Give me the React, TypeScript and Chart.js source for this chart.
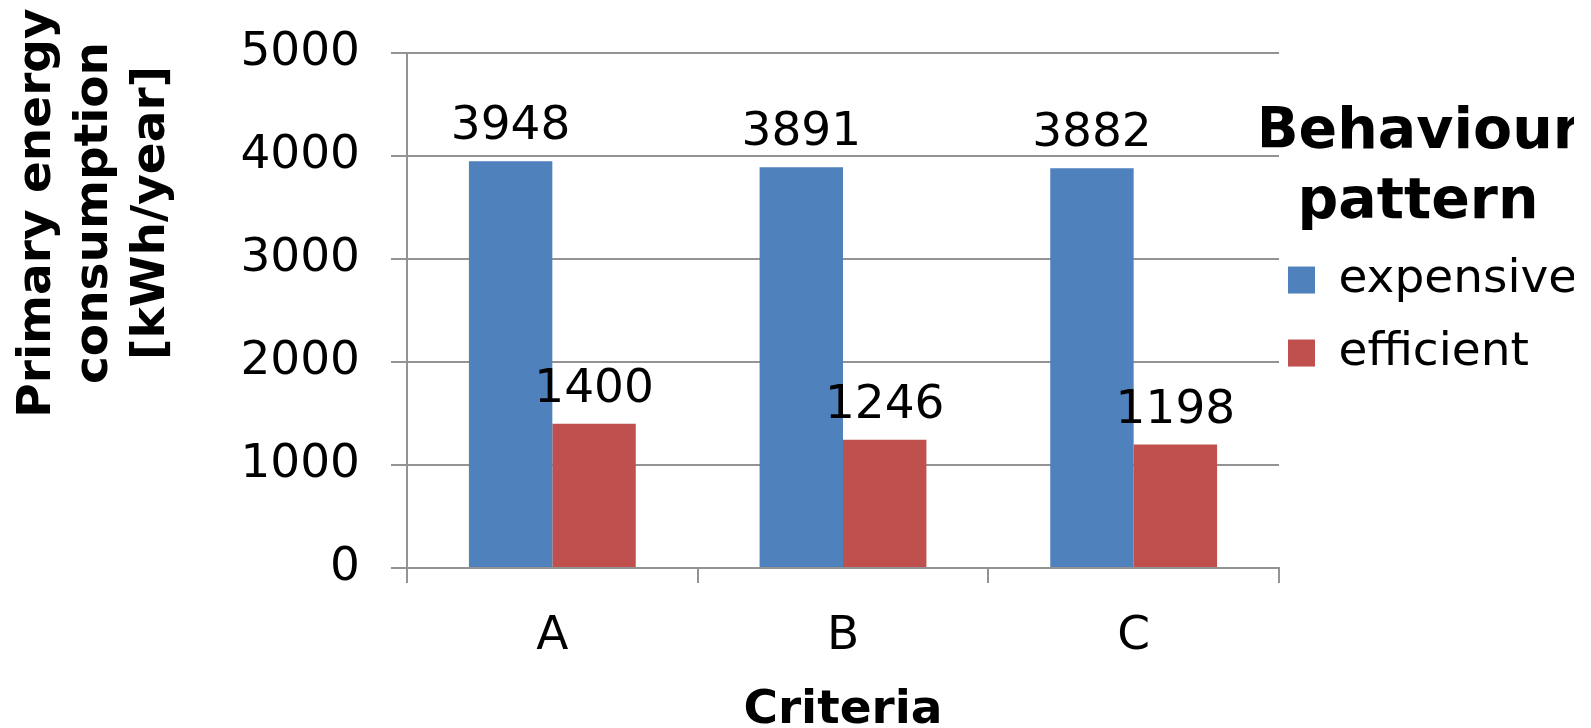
import React, { useEffect, useRef } from 'react';
import { Chart, registerables } from 'chart.js';

Chart.register(...registerables);

// Chart data
const categories = ['A', 'B', 'C'];
const seriesNames = ['expensive', 'efficient'];
const expensiveValues = [3948, 3891, 3882];
const efficientValues = [1400, 1246, 1198];
const yTickValues = [0, 1000, 2000, 3000, 4000, 5000];

// Titles
const yTitleLines = ['Primary energy', 'consumption', '[kWh/year]'];
const xTitle = 'Criteria';
const legendTitleLines = ['Behaviour', 'pattern'];

const FONT = '"DejaVu Sans", Verdana, sans-serif';
const AXIS_GRAY = '#939393';

// Draws each bar's value centred above it
const valueLabels = {
  id: 'valueLabels',
  afterDatasetsDraw(chart: any) {
    const { ctx } = chart;
    ctx.save();
    ctx.font = `47px ${FONT}`;
    ctx.fillStyle = '#000';
    ctx.textAlign = 'center';
    ctx.textBaseline = 'alphabetic';
    chart.data.datasets.forEach((ds: any, i: number) => {
      const meta = chart.getDatasetMeta(i);
      meta.data.forEach((bar: any, j: number) => {
        ctx.fillText(String(ds.data[j]), bar.x, bar.y - 22);
      });
    });
    ctx.restore();
  },
};

// Three-line rotated title for the value axis
const yAxisTitle = {
  id: 'yAxisTitle',
  afterDraw(chart: any) {
    const { ctx } = chart;
    const baselines = [50, 107, 164];
    const centerY = 213;
    ctx.save();
    ctx.font = `bold 47px ${FONT}`;
    ctx.fillStyle = '#000';
    ctx.textAlign = 'center';
    ctx.textBaseline = 'alphabetic';
    yTitleLines.forEach((line, i) => {
      ctx.save();
      ctx.translate(baselines[i], centerY);
      ctx.rotate(-Math.PI / 2);
      ctx.fillText(line, 0, 0);
      ctx.restore();
    });
    ctx.restore();
  },
};

// Pull the legend block a little closer to the plot area
const legendOffset = {
  id: 'legendOffset',
  afterLayout(chart: any) {
    const lg = chart.legend;
    if (lg) {
      lg.left -= 17;
      lg.right -= 17;
    }
  },
};

export default function App() {
  const canvasRef = useRef<HTMLCanvasElement | null>(null);

  useEffect(() => {
    document.body.style.margin = '0';
    const canvas = canvasRef.current;
    if (!canvas) return;
    Chart.defaults.font.family = FONT;

    const chart = new Chart(canvas, {
      type: 'bar',
      data: {
        labels: categories,
        datasets: [
          {
            label: seriesNames[0],
            data: expensiveValues,
            backgroundColor: '#4f81bd',
            borderWidth: 0,
            barPercentage: 1,
            categoryPercentage: 0.574,
          },
          {
            label: seriesNames[1],
            data: efficientValues,
            backgroundColor: '#c0504d',
            borderWidth: 0,
            barPercentage: 1,
            categoryPercentage: 0.574,
          },
        ],
      },
      options: {
        responsive: false,
        animation: false,
        devicePixelRatio: 1,
        layout: { padding: { left: 238, right: 0, top: 53, bottom: 0 } },
        scales: {
          x: {
            grid: {
              display: true,
              drawOnChartArea: false,
              drawTicks: true,
              tickLength: 15,
              color: AXIS_GRAY,
              lineWidth: 2,
              offset: true,
            },
            border: { display: true, color: AXIS_GRAY, width: 2 },
            ticks: { font: { size: 47 }, color: '#000', padding: 26 },
            title: {
              display: true,
              text: xTitle,
              color: '#000',
              font: { size: 47, weight: 'bold', lineHeight: 0.75 },
              padding: { top: 0, bottom: 0 },
            },
            afterFit: (scale: any) => {
              scale.height = 160;
            },
          },
          y: {
            min: 0,
            max: 5000,
            afterBuildTicks: (scale: any) => {
              scale.ticks = yTickValues.map((v) => ({ value: v }));
            },
            grid: { color: AXIS_GRAY, lineWidth: 2, tickLength: 16, drawTicks: true },
            border: { display: true, color: AXIS_GRAY, width: 2 },
            ticks: {
              font: { size: 47 },
              color: '#000',
              padding: 31,
              callback: (v: any) => String(v),
            },
            afterFit: (scale: any) => {
              scale.width = 169;
              scale.paddingTop = 0;
              scale.paddingBottom = 0;
            },
          },
        },
        plugins: {
          tooltip: { enabled: false },
          legend: {
            position: 'right',
            align: 'start',
            maxWidth: 312,
            title: {
              display: true,
              text: legendTitleLines,
              color: '#000',
              font: { size: 57, weight: 'bold', lineHeight: 1.22 },
              padding: { top: 52, bottom: 56 },
            },
            labels: {
              boxWidth: 27,
              boxHeight: 27,
              padding: 26,
              color: '#000',
              font: { size: 47 },
            },
          },
        },
      },
      plugins: [valueLabels, yAxisTitle, legendOffset],
    } as any);

    return () => chart.destroy();
  }, []);

  return (
    <div style={{ position: 'absolute', left: 0, top: 0, width: 1591, height: 728, background: '#fff' }}>
      <canvas ref={canvasRef} width={1591} height={728} />
    </div>
  );
}
